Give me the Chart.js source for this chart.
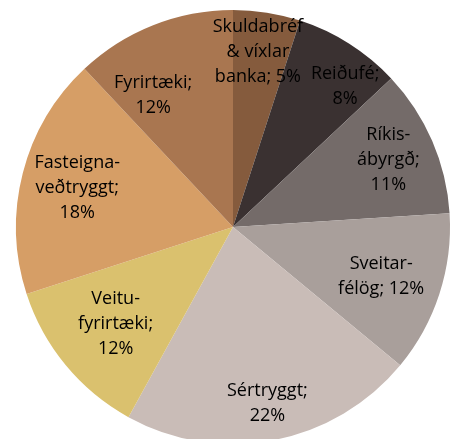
<!DOCTYPE html>
<html><head><meta charset="utf-8">
<script src="https://cdn.jsdelivr.net/npm/chart.js@4/dist/chart.umd.min.js"></script>
<style>
html,body{margin:0;padding:0;background:#fff;overflow:hidden;width:455px;height:439px;}
#wrap{position:absolute;left:0;top:0;width:466px;height:454px;}
</style></head>
<body><div id="wrap"><canvas id="c"></canvas></div>
<script>
const categories = ["Skuldabréf & víxlar banka","Reiðufé","Ríkisábyrgð","Sveitarfélög","Sértryggt","Veitufyrirtæki","Fasteignaveðtryggt","Fyrirtæki"];
const values = [5, 8, 11, 12, 22, 12, 18, 12];
const labelLines = [
  ["Skuldabréf","& víxlar","banka; 5%"],
  ["Reiðufé;","8%"],
  ["Ríkis-","ábyrgð;","11%"],
  ["Sveitar-","félög; 12%"],
  ["Sértryggt;","22%"],
  ["Veitu-","fyrirtæki;","12%"],
  ["Fasteigna-","veðtryggt;","18%"],
  ["Fyrirtæki;","12%"]
];
const colors = ["#855B3D","#3A3131","#746B69","#A99F9B","#C9BCB7","#DAC16E","#D69E66","#A97650"];
// label placement: fraction of radius, angle nudge in degrees
const labelRadial = [0.815,0.83,0.78,0.72,0.83,0.70,0.74,0.71];
const labelNudge = [-0.9,6.1,0,0.5,-0.2,0.2,-0.4,-9.6];

const labelPlugin = {
  id:'pieLabels',
  afterDatasetsDraw(chart){
    const ctx = chart.ctx;
    const meta = chart.getDatasetMeta(0);
    ctx.save();
    ctx.font = '18px "Open Sans", sans-serif';
    ctx.fillStyle = '#000';
    ctx.textAlign = 'center';
    ctx.textBaseline = 'middle';
    meta.data.forEach((arc,i)=>{
      const p = arc.getProps(['x','y','startAngle','endAngle','outerRadius'],true);
      const a = (p.startAngle+p.endAngle)/2 + labelNudge[i]*Math.PI/180;
      const r = p.outerRadius*labelRadial[i];
      const cx = p.x + Math.cos(a)*r;
      const cy = p.y + Math.sin(a)*r;
      const lines = labelLines[i];
      const lh = 25;
      lines.forEach((t,j)=>{
        ctx.fillText(t, cx, cy + (j-(lines.length-1)/2)*lh);
      });
    });
    ctx.restore();
  }
};

new Chart(document.getElementById('c'),{
  type:'pie',
  data:{labels:categories,datasets:[{data:values,backgroundColor:colors,borderWidth:0}]},
  options:{
    responsive:true,maintainAspectRatio:false,animation:false,
    layout:{padding:{left:16,right:16,top:10,bottom:10}},
    plugins:{legend:{display:false},tooltip:{enabled:false}}
  },
  plugins:[labelPlugin]
});
</script></body></html>
